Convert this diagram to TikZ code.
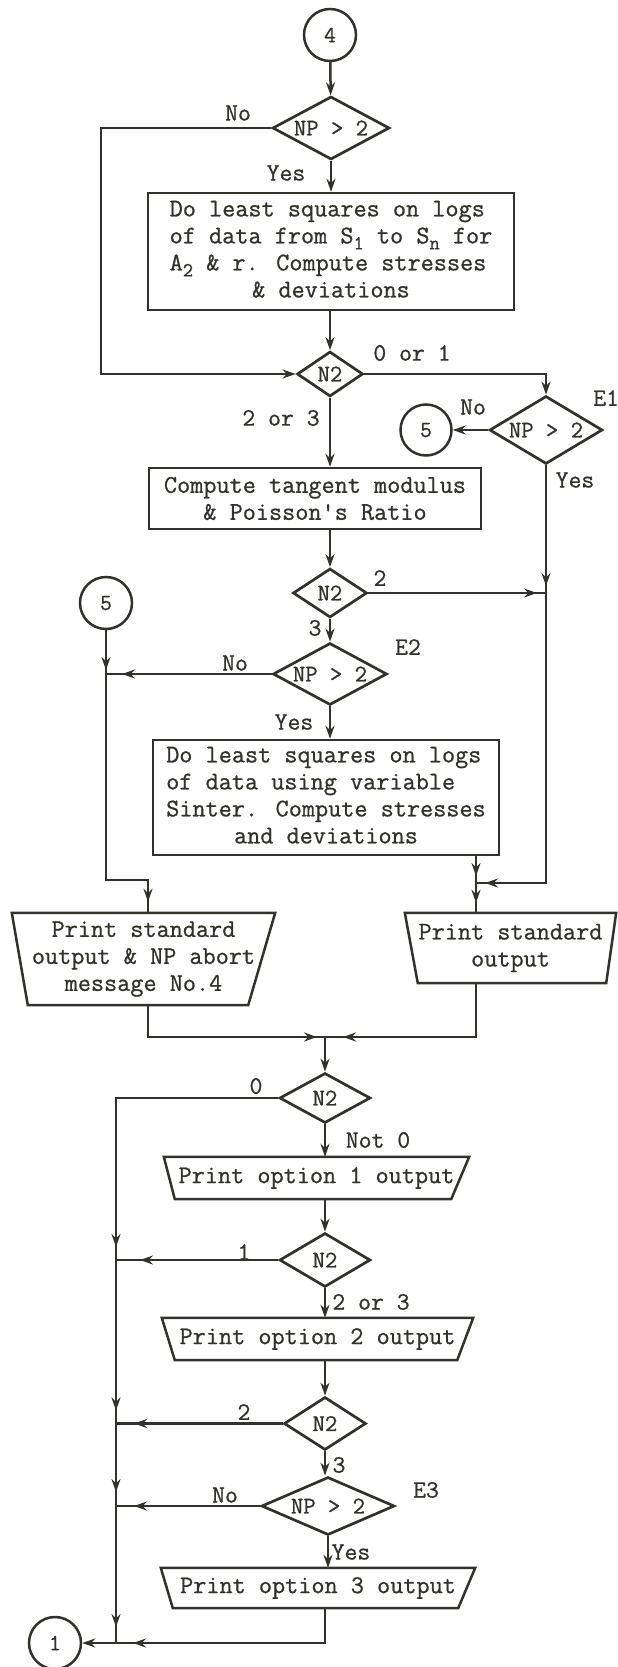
\documentclass[tikz,border=0pt]{standalone}
\usepackage{fontspec}
\newfontfamily\tyf{Latin Modern Mono}[FakeBold=0.8]
\usetikzlibrary{shapes.geometric,arrows.meta,decorations.markings}
\definecolor{ink}{RGB}{50,50,44}
\newcommand\sbx[1]{\raisebox{-6pt}{\fontsize{20}{20}\selectfont #1}}
\begin{document}
\begin{tikzpicture}[x=1pt,y=-1pt,
  ln/.style={color=ink, line width=2.5pt},
  arr/.style={ln, -{Stealth[length=13pt,width=9pt]}},
  marr/.style={ln, postaction={decorate}, decoration={markings, mark=at position #1 with {\arrow{Stealth[length=13pt,width=9pt]}}}},
  txt/.style={text=ink, font=\tyf\fontsize{25.5}{27}\selectfont},
  lab/.style={text=ink, font=\tyf\fontsize{25}{25}\selectfont, inner sep=0},
  box/.style={txt, draw=ink, line width=2.5pt, rectangle, inner sep=0, align=center},
  tbox/.style={txt, inner sep=0, align=center},
  dec/.style={draw=ink, line width=2.7pt, diamond, inner sep=0, text=ink, font=\tyf\fontsize{24}{24}\selectfont},
  con/.style={draw=ink, line width=2.5pt, circle, inner sep=0, minimum size=52pt, text=ink, font=\tyf\fontsize{23}{23}\selectfont},
]
\useasboundingbox (0,0) rectangle (618,1667);

% ---------- nodes ----------
\node[con] (c4) at (330,35) {4};
\node[dec, shape aspect=1.86, minimum width=117pt, minimum height=63pt] (d1) at (331,128) {NP > 2};
\node[box, minimum width=366pt, minimum height=117pt] (b1) at (331,251.5) {\begin{tabular}{@{}l@{}}Do least squares on logs\\of data from S\sbx{1} to S\sbx{n} for\\A\sbx{2} \& r. Compute stresses\\\multicolumn{1}{@{}c@{}}{\& deviations}\end{tabular}};
\node[dec, shape aspect=1.45, minimum width=66pt, minimum height=45pt] (n2a) at (330,374) {N2};
\node[dec, shape aspect=1.66, minimum width=113pt, minimum height=68pt] (e1) at (546,430) {NP > 2};
\node[con, minimum size=51pt] (c5r) at (426,430) {5};
\node[box, minimum width=332pt, minimum height=61pt] (b2) at (315,498.5) {Compute tangent modulus\\\& Poisson's Ratio};
\node[dec, shape aspect=1.5, minimum width=74pt, minimum height=49pt] (n2b) at (330,593) {N2};
\node[con] (c5l) at (106,603) {5};
\node[dec, shape aspect=1.84, minimum width=114pt, minimum height=62pt] (e2) at (330,674) {NP > 2};
\node[box, minimum width=346pt, minimum height=115pt] (b4) at (326,797.5) {\begin{tabular}{@{}l@{}}Do least squares on logs\\of data using variable\\Sinter. Compute stresses\\\multicolumn{1}{@{}c@{}}{and deviations}\end{tabular}};
\node[tbox, minimum width=263pt, minimum height=92pt] (b3) at (143.5,959) {Print standard\\output \& NP abort\\message No.4};
\node[tbox, minimum width=211pt, minimum height=70pt] (b5) at (510.5,948) {Print standard\\output};
\node[dec, shape aspect=1.82, minimum width=91pt, minimum height=50pt] (n2c) at (325,1098) {N2};
\node[tbox, minimum width=305pt, minimum height=42pt] (o1) at (316.5,1178) {Print option 1 output};
\node[dec, shape aspect=1.69, minimum width=91pt, minimum height=54pt] (n2d) at (325,1260) {N2};
\node[tbox, minimum width=311pt, minimum height=42pt] (o2) at (317.5,1339) {Print option 2 output};
\node[dec, shape aspect=1.55, minimum width=82pt, minimum height=53pt] (n2e) at (325,1423.5) {N2};
\node[dec, shape aspect=2.29, minimum width=133pt, minimum height=58pt] (e3) at (328,1506) {NP > 2};
\node[tbox, minimum width=314pt, minimum height=40pt] (o3) at (318,1588) {Print option 3 output};
\node[con] (c1) at (55,1643) {1};

% trapezoid outlines
\draw[ln, line join=miter] (b3.north west) -- (b3.north east) -- ([xshift=-27pt]b3.south east) -- ([xshift=16pt]b3.south west) -- cycle;
\draw[ln, line join=miter] (b5.north west) -- (b5.north east) -- ([xshift=-10pt]b5.south east) -- ([xshift=13pt]b5.south west) -- cycle;
\draw[ln, line join=miter] (o1.north west) -- (o1.north east) -- ([xshift=-18pt]o1.south east) -- ([xshift=11pt]o1.south west) -- cycle;
\draw[ln, line join=miter] (o2.north west) -- (o2.north east) -- ([xshift=-16pt]o2.south east) -- ([xshift=13pt]o2.south west) -- cycle;
\draw[ln, line join=miter] (o3.north west) -- (o3.north east) -- ([xshift=-17pt]o3.south east) -- ([xshift=12pt]o3.south west) -- cycle;

% ---------- joints ----------
\coordinate (ltop) at (101,128);
\coordinate (lbot) at (101,374);
\coordinate (rtop) at (546,374);
\coordinate (j1) at (546,593);
\coordinate (j2) at (546,883);
\coordinate (j3) at (476,883);
\coordinate (j4) at (106,674);
\coordinate (j5) at (106,880);
\coordinate (j6) at (148,880);
\coordinate (j7) at (148,1037);
\coordinate (j8) at (325,1037);
\coordinate (j9) at (476,1037);
\coordinate (jl0) at (116,1098);
\coordinate (jl1) at (116,1260);
\coordinate (jl2) at (116,1423.5);
\coordinate (jl3) at (116,1506);
\coordinate (jl4) at (116,1643);
\coordinate (jb) at (325,1643);

% ---------- connectors ----------
\draw[arr] (c4) -- (d1);
\draw[arr] (d1.south) -- (d1.south |- b1.north);
\draw[arr] (d1.west) -- (ltop) -- (lbot) -- (n2a.west);
\draw[arr] (b1.south -| n2a) -- (n2a.north);
\draw[arr] (n2a.east) -- (rtop) -- (e1.north);
\draw[arr] (e1.west) -- (c5r.east);
\draw[marr=-7pt] (e1.south) -- (j1);
\draw[marr=-9pt] (j1) -- (j2) -- (j3);
\draw[arr] (n2a.south) -- (n2a.south |- b2.north);
\draw[arr] (b2.south -| n2b) -- (n2b.north);
\draw[marr=-9pt] (n2b.east) -- (j1);
\draw[arr] (n2b.south) -- (e2.north);
\draw[marr=-4pt] (c5l.south) -- (j4);
\draw[marr=-16pt] (e2.west) -- (j4);
\draw[marr=-11pt] (j4) -- (j5) -- (j6) -- (b3.north -| j6);
\draw[arr] (e2.south) -- (e2.south |- b4.north);
\draw[marr=-7pt] (b4.south -| j3) -- (j3);
\draw[marr=-10pt] (j3) -- (b5.north -| j3);
\draw[marr=-8pt] (b3.south -| j7) -- (j7) -- (j8);
\draw[marr=-18pt] (b5.south -| j9) -- (j9) -- (j8);
\draw[arr] (j8) -- (n2c.north);
\draw[arr] (n2c.south) -- (n2c.south |- o1.north);
\draw[marr=-13pt] (n2c.west) -- (jl0) -- (jl1);
\draw[arr] (o1.south -| n2d) -- (n2d.north);
\draw[marr=-24pt] (n2d.west) -- (jl1);
\draw[marr=-13pt] (jl1) -- (jl2);
\draw[arr] (n2d.south) -- (n2d.south |- o2.north);
\draw[arr] (o2.south -| n2e) -- (n2e.north);
\draw[marr=-18pt] (n2e.west) -- (jl2);
\draw[marr=-14pt] (jl2) -- (jl3);
\draw[arr] (n2e.south) -- (n2e.south |- e3.north);
\draw[marr=-18pt] (e3.west) -- (jl3);
\draw[marr=-16pt] (jl3) -- (jl4);
\draw[arr] (e3.south) -- (e3.south |- o3.north);
\draw[marr=-17pt] (o3.south -| jb) -- (jb) -- (jl4);
\draw[arr] (jl4) -- (c1.east);

% ---------- labels ----------
\node[lab] (t1) at (238,113) {No};
\node[lab] (t2) at (286,173) {Yes};
\node[lab] (t3) at (412,353) {0 or 1};
\node[lab] (t4) at (281,418) {2 or 3};
\node[lab, anchor=west] (t5) at (593,398) {E1};
\node[lab] (t6) at (473,407) {No};
\node[lab] (t7) at (575,480) {Yes};
\node[lab] (t8) at (380,578) {2};
\node[lab] (t9) at (315,628) {3};
\node[lab] (t10) at (408,647) {E2};
\node[lab] (t11) at (235,663) {No};
\node[lab] (t12) at (294,722) {Yes};
\node[lab] (t13) at (256,1086) {0};
\node[lab] (t14) at (378,1140) {Not 0};
\node[lab] (t15) at (244,1252) {1};
\node[lab] (t16) at (371,1302) {2 or 3};
\node[lab] (t17) at (244,1412) {2};
\node[lab] (t18) at (339,1465) {3};
\node[lab] (t19) at (426,1490) {E3};
\node[lab] (t20) at (225,1495) {No};
\node[lab] (t21) at (351,1552) {Yes};
\end{tikzpicture}
\end{document}
